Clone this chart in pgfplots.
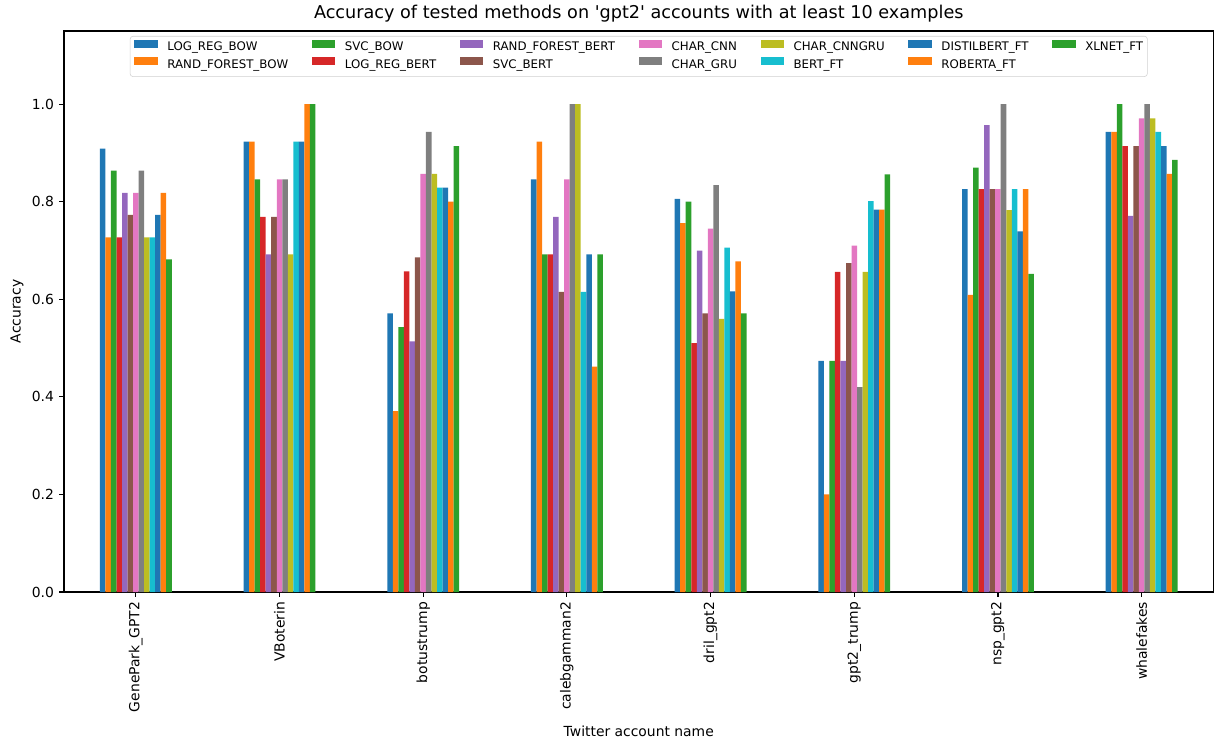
\documentclass[border=0pt]{standalone}
\usepackage{fontspec}
\setmainfont{DejaVu Sans}
\usepackage{pgfplots}
\usepackage{pgfplotstable}
\pgfplotsset{compat=1.18}

% matplotlib tab10
\definecolor{c0}{HTML}{1F77B4}
\definecolor{c1}{HTML}{FF7F0E}
\definecolor{c2}{HTML}{2CA02C}
\definecolor{c3}{HTML}{D62728}
\definecolor{c4}{HTML}{9467BD}
\definecolor{c5}{HTML}{8C564B}
\definecolor{c6}{HTML}{E377C2}
\definecolor{c7}{HTML}{7F7F7F}
\definecolor{c8}{HTML}{BCBD22}
\definecolor{c9}{HTML}{17BECF}

% accuracy per account (rows) and method (columns)
\pgfplotstableread{
x lrbow rfbow svcbow lrbert rfbert svcbert cnn   gru   cnngru bert  distil roberta xlnet
0 0.909 0.727 0.864  0.727  0.818  0.773   0.818 0.864 0.727  0.727 0.773  0.818   0.682
1 0.923 0.923 0.846  0.769  0.692  0.769   0.846 0.846 0.692  0.923 0.923  1.000   1.000
2 0.571 0.371 0.543  0.657  0.514  0.686   0.857 0.943 0.857  0.829 0.829  0.800   0.914
3 0.846 0.923 0.692  0.692  0.769  0.615   0.846 1.000 1.000  0.615 0.692  0.462   0.692
4 0.806 0.756 0.800  0.510  0.700  0.571   0.745 0.834 0.560  0.706 0.616  0.678   0.571
5 0.474 0.200 0.474  0.656  0.474  0.674   0.710 0.420 0.656  0.801 0.784  0.784   0.856
6 0.826 0.609 0.870  0.826  0.957  0.826   0.826 1.000 0.783  0.826 0.739  0.826   0.652
7 0.943 0.943 1.000  0.914  0.771  0.914   0.971 1.000 0.971  0.943 0.914  0.857   0.886
}\acc

\begin{document}
\begin{tikzpicture}
\begin{axis}[
  scale only axis,
  width=827.64pt, height=403.92pt,
  xmin=-0.5, xmax=7.5, ymin=0, ymax=1.15,
  ybar=0pt, bar width=0.0384615,
  axis line style={line width=0.8pt},
  tick pos=left, tick align=outside, major tick length=3.5pt,
  tick style={black, line width=0.8pt},
  /pgf/number format/assume math mode=true,
  xtick={0,1,2,3,4,5,6,7},
  xticklabels={GenePark\_GPT2, VBoterin, botustrump, calebgamman2, dril\_gpt2, gpt2\_trump, nsp\_gpt2, whalefakes},
  xticklabel style={yshift=-3.5pt, rotate=90, anchor=east, inner sep=0pt, font=\fontsize{10}{12}\selectfont},
  ytick={0,0.2,0.4,0.6,0.8,1.0},
  yticklabel style={/pgf/number format/.cd, fixed, fixed zerofill, precision=1, /tikz/.cd,
    anchor=east, inner sep=0pt, xshift=-3.5pt, font=\fontsize{10}{12}\selectfont},
  ylabel={Accuracy},
  ylabel style={at={(axis description cs:-0.0408,0.5)}, anchor=center, font=\fontsize{10}{12}\selectfont},
  xlabel={Twitter account name},
  xlabel style={at={(axis description cs:0.5,-0.2567)}, anchor=base, font=\fontsize{10}{12}\selectfont},
  title={Accuracy of tested methods on \textquotesingle gpt2\textquotesingle{} accounts with at least 10 examples},
  title style={at={(axis description cs:0.5,1)}, anchor=south, inner sep=0pt, font=\fontsize{12.7}{15}\selectfont},
  legend image code/.code={\fill[#1, draw=none, sharp corners] (0pt,-0.2pt) rectangle (17pt,5.7pt);},
  legend columns=7,
  legend cell align=left,
  legend style={at={(0.5,0.9911)}, anchor=north, draw=black!18, rounded corners=2pt,
    inner xsep=3pt, inner ysep=1.9pt,
    font=\fontsize{8.5}{10}\selectfont,
    nodes={inner xsep=0pt, inner ysep=2pt, text height=6.6pt, text depth=2pt},
    /tikz/every odd column/.append style={column sep=6.8pt},
    /tikz/every even column/.append style={column sep=17pt}},
]
\addplot[fill=c0, draw=none, bar shift=-0.230769, forget plot] table[x=x, y=lrbow] {\acc};
\addplot[fill=c1, draw=none, bar shift=-0.192308, forget plot] table[x=x, y=rfbow] {\acc};
\addplot[fill=c2, draw=none, bar shift=-0.153846, forget plot] table[x=x, y=svcbow] {\acc};
\addplot[fill=c3, draw=none, bar shift=-0.115385, forget plot] table[x=x, y=lrbert] {\acc};
\addplot[fill=c4, draw=none, bar shift=-0.076923, forget plot] table[x=x, y=rfbert] {\acc};
\addplot[fill=c5, draw=none, bar shift=-0.038462, forget plot] table[x=x, y=svcbert] {\acc};
\addplot[fill=c6, draw=none, bar shift=0, forget plot] table[x=x, y=cnn] {\acc};
\addplot[fill=c7, draw=none, bar shift=0.038462, forget plot] table[x=x, y=gru] {\acc};
\addplot[fill=c8, draw=none, bar shift=0.076923, forget plot] table[x=x, y=cnngru] {\acc};
\addplot[fill=c9, draw=none, bar shift=0.115385, forget plot] table[x=x, y=bert] {\acc};
\addplot[fill=c0, draw=none, bar shift=0.153846, forget plot] table[x=x, y=distil] {\acc};
\addplot[fill=c1, draw=none, bar shift=0.192308, forget plot] table[x=x, y=roberta] {\acc};
\addplot[fill=c2, draw=none, bar shift=0.230769, forget plot] table[x=x, y=xlnet] {\acc};

% legend filled column by column, as in the original
\addlegendimage{fill=c0}\addlegendentry{LOG\_REG\_BOW}
\addlegendimage{fill=c2}\addlegendentry{SVC\_BOW}
\addlegendimage{fill=c4}\addlegendentry{RAND\_FOREST\_BERT}
\addlegendimage{fill=c6}\addlegendentry{CHAR\_CNN}
\addlegendimage{fill=c8}\addlegendentry{CHAR\_CNNGRU}
\addlegendimage{fill=c0}\addlegendentry{DISTILBERT\_FT}
\addlegendimage{fill=c2}\addlegendentry{XLNET\_FT}
\addlegendimage{fill=c1}\addlegendentry{RAND\_FOREST\_BOW}
\addlegendimage{fill=c3}\addlegendentry{LOG\_REG\_BERT}
\addlegendimage{fill=c5}\addlegendentry{SVC\_BERT}
\addlegendimage{fill=c7}\addlegendentry{CHAR\_GRU}
\addlegendimage{fill=c9}\addlegendentry{BERT\_FT}
\addlegendimage{fill=c1}\addlegendentry{ROBERTA\_FT}
\end{axis}
\pgfresetboundingbox
\path[use as bounding box] ([shift={(-46.08pt,-108.72pt)}]current axis.south west)
  rectangle ([shift={(0.36pt,22.32pt)}]current axis.north east);
\end{tikzpicture}
\end{document}
